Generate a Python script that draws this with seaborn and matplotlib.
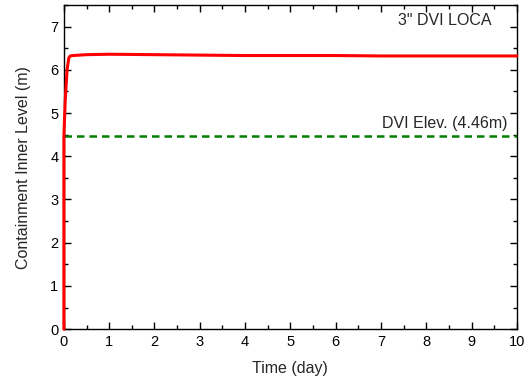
import numpy as np
import pandas as pd
import matplotlib
matplotlib.use("Agg")
import matplotlib.pyplot as plt
import seaborn as sns
from matplotlib.ticker import MultipleLocator

# data
time_day = [0.0, 0.0, 0.005, 0.03, 0.07, 0.11, 0.14, 0.2, 0.5, 1.0, 2.0, 3.0, 4.0, 5.0, 6.0, 7.0, 8.0, 9.0, 10.0]
level_m = [0.0, 4.46, 4.6, 5.3, 6.0, 6.28, 6.32, 6.33, 6.35, 6.36, 6.35, 6.34, 6.33, 6.33, 6.33, 6.32, 6.32, 6.32, 6.32]
dvi_elev = 4.46
x_range = [0, 10]

sns.set_style("ticks")
plt.rcParams['font.family'] = ['Liberation Sans', 'DejaVu Sans']

df = pd.DataFrame({"Time (day)": time_day, "Level": level_m})

fig, ax = plt.subplots(figsize=(5.28, 3.81), dpi=100)
sns.lineplot(data=df, x="Time (day)", y="Level", ax=ax, color="red", lw=2.2,
             sort=False, estimator=None, zorder=3, clip_on=False)
sns.lineplot(x=x_range, y=[dvi_elev, dvi_elev], ax=ax, color="green", lw=1.8,
             linestyle=(0, (3, 2)))

ax.set_xlim(0, 10)
ax.set_ylim(0, 7.5)
ax.xaxis.set_major_locator(MultipleLocator(1))
ax.xaxis.set_minor_locator(MultipleLocator(0.5))
ax.yaxis.set_major_locator(MultipleLocator(1))
ax.yaxis.set_minor_locator(MultipleLocator(0.5))
ax.tick_params(which="both", direction="in", top=True, right=True, labelsize=10.5,
               colors="black")
ax.tick_params(which="major", length=5, width=1, pad=4)
ax.tick_params(which="minor", length=3, width=1)
for s in ax.spines.values():
    s.set_linewidth(1)
    s.set_color("black")

ax.set_xlabel("Time (day)", fontsize=11.5, labelpad=9)
ax.set_ylabel("Containment Inner Level (m)", fontsize=11.5, labelpad=14)

ax.text(9.45, 7.15, '3" DVI LOCA', fontsize=11.5, ha="right", va="center")
ax.text(9.8, 4.58, "DVI Elev. (4.46m)", fontsize=11.5, ha="right", va="bottom")

fig.subplots_adjust(left=0.121, right=0.979, top=0.987, bottom=0.136)
fig.savefig("out.png", dpi=100)
